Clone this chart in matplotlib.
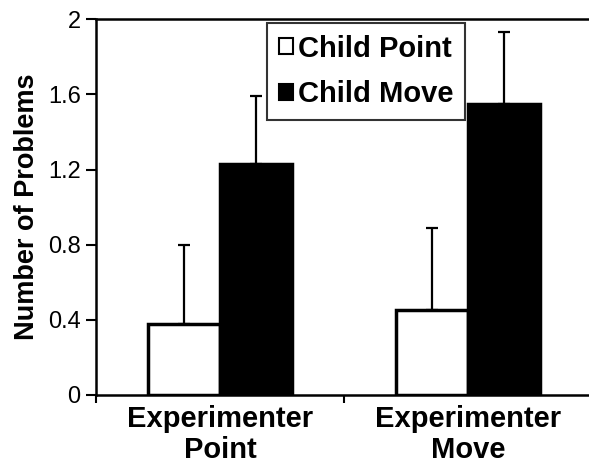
import matplotlib
matplotlib.use('Agg')
import matplotlib.pyplot as plt
import numpy as np
from matplotlib.patches import Patch

plt.rcParams['font.family'] = ['Liberation Sans', 'DejaVu Sans']

categories = ["Experimenter\nPoint", "Experimenter\nMove"]
series = ["Child Point", "Child Move"]
child_point = [0.38, 0.45]
child_point_err = [0.42, 0.44]
child_move = [1.23, 1.55]
child_move_err = [0.36, 0.38]

fig = plt.figure(figsize=(5.89, 4.68), dpi=100)
ax = fig.add_axes([0.163, 0.156, 0.842, 0.803])

x = np.arange(len(categories))
w = 0.29
ax.bar(x - w / 2, child_point, w, color='white', edgecolor='black', linewidth=2.5,
       yerr=[np.zeros(2), child_point_err], capsize=4,
       error_kw=dict(elinewidth=1.6, capthick=1.6, ecolor='black'), zorder=2)
ax.bar(x + w / 2, child_move, w, color='black', edgecolor='black', linewidth=2.5,
       yerr=[np.zeros(2), child_move_err], capsize=4,
       error_kw=dict(elinewidth=1.6, capthick=1.6, ecolor='black'), zorder=2)

ax.set_xlim(-0.5, 1.5)
ax.set_ylim(0, 2)
ax.set_yticks([0, 0.4, 0.8, 1.2, 1.6, 2])
ax.set_yticklabels(["0", "0.4", "0.8", "1.2", "1.6", "2"], fontsize=17)
ax.set_xticks(x)
ax.set_xticklabels(categories, fontsize=21, fontweight='bold', linespacing=1.15)
ax.set_xticks([-0.5, 0.5, 1.5], minor=True)
ax.tick_params(axis='x', which='major', length=0, pad=7)
ax.tick_params(axis='x', which='minor', length=6, width=1.5, direction='out')
ax.tick_params(axis='y', length=7, width=1.5, direction='out', pad=4)
ax.set_ylabel("Number of Problems", fontsize=19.5, fontweight='bold', labelpad=6)

for s in ['left', 'bottom', 'top']:
    ax.spines[s].set_linewidth(1.8)
ax.spines['right'].set_visible(False)

handles = [Patch(facecolor='white', edgecolor='black', linewidth=1.5, label=series[0]),
           Patch(facecolor='black', edgecolor='black', linewidth=1.5, label=series[1])]
leg = ax.legend(handles=handles, loc='upper left', bbox_to_anchor=(0.345, 0.99),
                prop={'size': 21, 'weight': 'bold'}, frameon=True, fancybox=False,
                handlelength=0.5, handleheight=0.45, handletextpad=0.15,
                labelspacing=0.6, borderpad=0.4, borderaxespad=0.0)
leg.get_frame().set_edgecolor('black')
leg.get_frame().set_linewidth(1.5)

plt.savefig("out.png", dpi=100)
